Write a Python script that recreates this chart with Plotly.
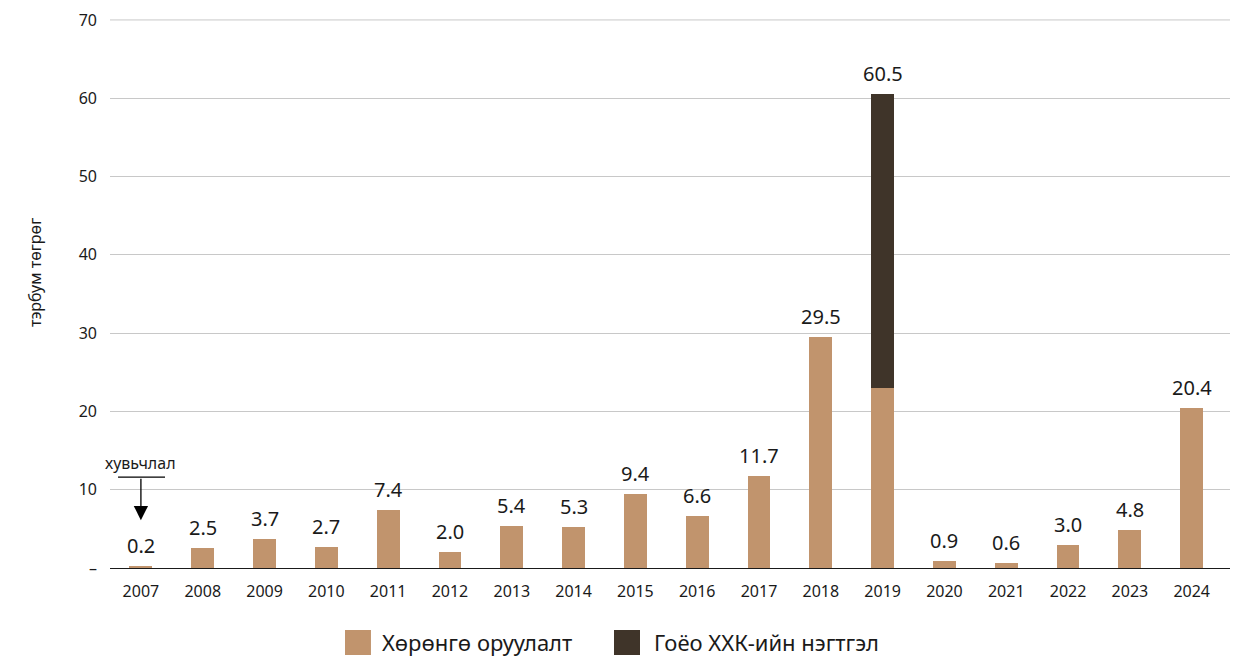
import plotly.graph_objects as go

years = [str(y) for y in range(2007, 2025)]
asset = [0.2, 2.5, 3.7, 2.7, 7.4, 2.0, 5.4, 5.3, 9.4, 6.6, 11.7, 29.5, 23.0, 0.9, 0.6, 3.0, 4.8, 20.4]
merger = [0, 0, 0, 0, 0, 0, 0, 0, 0, 0, 0, 0, 37.5, 0, 0, 0, 0, 0]
totals = [0.2, 2.5, 3.7, 2.7, 7.4, 2.0, 5.4, 5.3, 9.4, 6.6, 11.7, 29.5, 60.5, 0.9, 0.6, 3.0, 4.8, 20.4]
yticks = [0, 10, 20, 30, 40, 50, 60, 70]
ytick_text = ["–", "10", "20", "30", "40", "50", "60", "70"]
series_names = ["Хөрөнгө оруулалт", "Гоёо ХХК-ийн нэгтгэл"]
y_title = "тэрбум төгрөг"
note_text = "хувьчлал"

tan = "#c1946d"
dark = "#3f3429"
ink = "#1a1a1a"
grid = "#c8c8c8"
font = "Noto Sans"

xs = list(range(len(years)))

fig = go.Figure()
fig.add_trace(go.Bar(x=xs, y=asset, marker_color=tan, name=series_names[0],
                     showlegend=False, width=0.37, marker_line_width=0))
fig.add_trace(go.Bar(x=xs, y=merger, marker_color=dark, name=series_names[1],
                     showlegend=False, width=0.37, marker_line_width=0))

# value labels
for x, v in zip(xs, totals):
    fig.add_annotation(x=x, y=v, xref="x", yref="y", text=f"{v:.1f}",
                       showarrow=False, yanchor="bottom", yshift=5,
                       font=dict(size=20, color=ink, family=font))

# top gridline (at axis edge)
fig.add_shape(type="line", xref="paper", yref="y", x0=0, x1=1,
              y0=yticks[-1], y1=yticks[-1], line=dict(color=grid, width=1), layer="below")

# manual legend (bottom, centered)
leg = [(0.2098, 0.2411, tan), (0.450, 0.4839, dark)]
for (mx, tx, c), nm in zip(leg, series_names):
    fig.add_shape(type="rect", xref="paper", yref="paper",
                  x0=mx, x1=mx + 0.0232, y0=-0.1585, y1=-0.1129,
                  fillcolor=c, line=dict(width=0))
    fig.add_annotation(x=tx, y=-0.1357, xref="paper", yref="paper", text=nm,
                       showarrow=False, xanchor="left", yanchor="middle",
                       font=dict(size=22, color=ink, family=font))

# y axis title
fig.add_annotation(x=-0.067, y=0.539, xref="paper", yref="paper", text=y_title,
                   textangle=-90, showarrow=False, xanchor="center", yanchor="middle",
                   font=dict(size=16, color=ink, family=font))

# annotation: arrow for 2007
fig.add_annotation(x=0, y=6.1, ax=0, ay=11.6, xref="x", yref="y",
                   axref="x", ayref="y", text="", showarrow=True,
                   arrowhead=2, arrowsize=2.2, arrowwidth=1.3, arrowcolor="#000")
fig.add_shape(type="line", xref="x", yref="y", x0=-0.37, x1=0.39, y0=11.6, y1=11.6,
              line=dict(color="#000", width=1.3))
fig.add_annotation(x=0, y=11.8, xref="x", yref="y", text=note_text,
                   showarrow=False, yanchor="bottom",
                   font=dict(size=16, color=ink, family=font))

fig.update_layout(
    barmode="stack",
    width=1245, height=654,
    margin=dict(l=102, r=23, t=11, b=94),
    plot_bgcolor="white", paper_bgcolor="white",
    font=dict(family=font, color=ink, size=16),
    showlegend=False,
    xaxis=dict(range=[-0.5, 17.62], tickvals=xs, ticktext=years,
               showgrid=False, ticks="", tickfont=dict(size=16), showline=False,
               zeroline=False, ticklabelstandoff=12, automargin=False),
    yaxis=dict(range=[0, 70.12], tickvals=yticks, ticktext=ytick_text,
               showgrid=True, gridcolor=grid, gridwidth=1,
               zeroline=True, zerolinecolor=ink, zerolinewidth=1.2,
               tickfont=dict(size=16), ticklabelstandoff=12, automargin=False,
               ticklabeloverflow="allow"),
)
fig.write_html("out.html")
